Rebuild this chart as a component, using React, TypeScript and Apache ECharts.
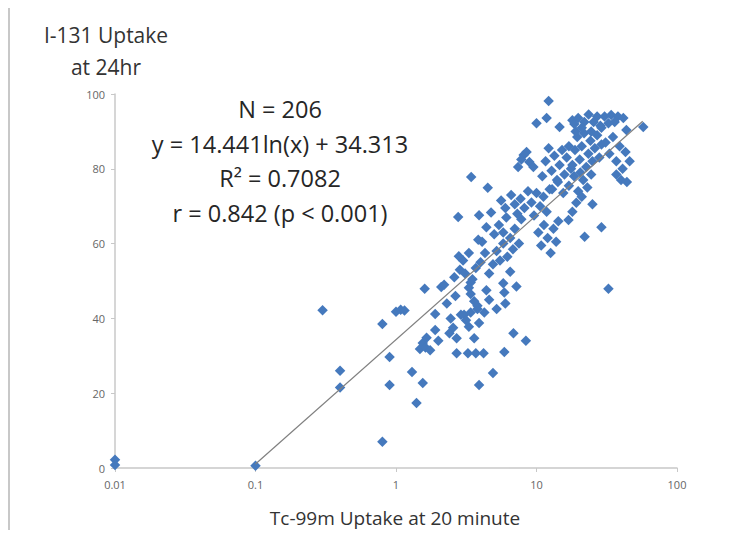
import React, { useEffect, useRef } from "react";
import * as echarts from "echarts";

// Tc-99m uptake at 20 min (x, %) vs I-131 uptake at 24hr (y, %)
const uptakePoints: [number, number][] = [
  // far-left / low outliers
  [0.01, 2.2], [0.01, 0.8], [0.1, 0.6], [0.3, 42.2], [0.4, 26], [0.4, 21.5], [0.8, 38.5], [0.8, 7],
  [0.9, 29.7], [0.9, 22.2], [1.0, 41.8], [1.08, 42.3], [1.15, 42.1], [1.3, 25.7], [1.4, 17.4], [1.55, 22.7],
  // x 1.4-3
  [1.48, 31.8], [1.55, 33.4], [1.62, 32.2], [1.75, 31.5], [1.6, 47.9], [1.65, 34.8], [1.9, 36.9], [1.9, 41.2],
  [2.0, 34], [2.1, 48.4], [2.2, 49], [2.3, 44], [2.45, 40], [2.4, 36], [2.65, 46], [2.7, 34.7], [2.7, 30.7],
  [2.55, 37.5], [2.9, 41],
  // x 3-4.6
  [3.25, 30.7], [3.7, 30.7], [4.2, 30.7], [3.6, 34.7], [3.9, 38.8], [3.05, 41], [3.4, 41.6], [3.15, 39.5],
  [3.8, 42.5], [4.25, 41.6], [3.3, 37.8], [3.9, 22.2], [3.4, 49.6], [3.3, 48.2], [3.4, 46.5], [3.6, 44.6],
  [3.8, 43.4], [4.6, 45], [4.4, 47.5],
  // x 4.5-8.5 low
  [4.9, 25.4], [5.9, 31], [6.85, 36], [8.4, 34], [5.8, 49.4], [5.9, 46.9], [6.0, 44], [7.2, 48.5], [5.2, 42.5],
  // y 48-61
  [2.6, 51], [2.85, 53], [3.0, 55.5], [3.3, 57.5], [3.1, 52], [2.8, 56.6], [3.5, 50.5], [3.7, 53.5], [4.0, 55],
  [4.3, 57.5], [4.6, 52], [4.9, 54.5], [5.2, 58], [5.5, 55.5], [5.8, 60], [6.2, 56.5], [6.5, 52.5], [4.1, 60.5],
  // y 59-68 and lone points
  [2.77, 67.1], [3.43, 77.8], [4.5, 74.9], [3.9, 67.6], [4.75, 68.3], [4.4, 64.4], [3.85, 61], [5.0, 62.5],
  [5.4, 65], [5.8, 63], [6.1, 67], [6.5, 61.5], [7.0, 64], [7.5, 60], [7.8, 66.5], [6.8, 58.5],
  // y 66-75
  [5.6, 71.5], [6.0, 69.5], [6.6, 73], [7.0, 70.5], [7.3, 68], [7.7, 72], [8.2, 69.5], [8.7, 74], [9.2, 71],
  [9.6, 67.5], [10.0, 73.5], [10.6, 70], [11.2, 72.5], [11.8, 68.5], [12.4, 74.5],
  // x 10-14.5, y 57-66
  [10.3, 63], [10.8, 59.5], [11.3, 65], [12.0, 61.5], [12.6, 57.5], [13.2, 64], [13.8, 60.5], [14.3, 66],
  // x 7-10 y 80-85 and top singles
  [7.4, 80.5], [8.1, 83.7], [8.9, 81.8], [9.5, 80.5], [8.5, 84.5], [7.8, 82.5], [12.2, 98.1], [10.0, 92.2],
  [11.8, 93.6], [14.6, 91.2],
  // x 11-18, y 77-86
  [11, 78], [11.6, 82], [12.2, 85.5], [12.8, 79.5], [13.4, 83.5], [14, 77], [14.6, 81], [15.2, 85], [15.8, 78.5],
  [16.4, 83], [17, 86], [17.6, 80],
  // x 13-25, y 73-79
  [12.9, 74.5], [14.2, 76.5], [15.5, 73.5], [17, 75.5], [18.5, 78], [19.8, 74], [21.5, 77], [23, 75], [24.5, 78.5],
  [20.5, 79],
  // x 16-33, y 48-73
  [16.9, 66.3], [19.2, 70.9], [22, 61.8], [29, 64.4], [18, 68.5], [21, 72.5], [25, 70.5], [32.5, 47.9],
  // x 18-30, y 80-90
  [18, 81], [18.8, 85], [19.5, 88.5], [20.3, 82.5], [21, 86], [21.8, 89.5], [22.6, 80.5], [23.4, 84], [24.2, 87.5],
  [25, 82], [26, 85.5], [27, 89], [28, 83], [29, 86.5], [19, 90], [24.5, 90],
  // top blob x 18-42, y 90-95
  [18, 93], [19.8, 93.6], [21.9, 92.5], [21, 91], [18.6, 92], [23.5, 94.5], [25.5, 92.5], [27, 94], [28.5, 91.5],
  [30.5, 94], [34, 94.4], [38, 94], [41.5, 93.6], [36, 92.5], [32.5, 92.2], [29, 91],
  // right column x 30-57
  [57.5, 91.2], [43.6, 90.4], [31, 87], [33, 84], [35, 88.5], [37, 82], [39, 86], [41, 80], [43, 84.5], [46, 82],
  [40, 77], [37, 78.5], [44, 76.5],
];

// logarithmic trend line end points (y = 14.441 ln(x) + 34.313)
const trendX = [0.1, 57];
const trendY = [1.06, 92.7];

const xTicks = [0.01, 0.1, 1, 10, 100];
const yTicks = [0, 20, 40, 60, 80, 100];

const statLines = ["N = 206", "y = 14.441ln(x) + 34.313", "R² = 0.7082", "r = 0.842 (p < 0.001)"];
const yTitleLines = ["I-131 Uptake", "at 24hr"];
const xTitle = "Tc-99m Uptake at 20 minute";

export default function App() {
  const ref = useRef<HTMLDivElement>(null);
  useEffect(() => {
    const chart = echarts.init(ref.current!, undefined, { renderer: "svg" });
    const font = "'Open Sans', Lato, sans-serif";
    chart.setOption({
      animation: false,
      backgroundColor: "#ffffff",
      grid: { left: 115, right: 78, top: 94, bottom: 70 },
      xAxis: {
        type: "log",
        logBase: 10,
        min: xTicks[0],
        max: xTicks[xTicks.length - 1],
        splitLine: { show: false },
        axisLine: { lineStyle: { color: "#c8c8c8", width: 1.5 } },
        axisTick: { show: true, length: 4, lineStyle: { color: "#c8c8c8" } },
        minorTick: { show: false },
        axisLabel: {
          color: "#666",
          fontSize: 11,
          fontFamily: font,
          margin: 11,
          formatter: (v: number) => String(Number(v.toPrecision(3))),
        },
      },
      yAxis: {
        type: "value",
        min: yTicks[0],
        max: yTicks[yTicks.length - 1],
        interval: 20,
        splitLine: { show: false },
        axisLine: { show: true, lineStyle: { color: "#c8c8c8", width: 1.5 } },
        axisTick: { show: true, length: 4, lineStyle: { color: "#c8c8c8" } },
        axisLabel: { color: "#666", fontSize: 11, fontFamily: font, margin: 10 },
      },
      series: [
        {
          type: "scatter",
          data: uptakePoints,
          symbol: "diamond",
          symbolSize: 10.5,
          itemStyle: { color: "#4579BD", opacity: 1 },
          z: 2,
        },
        {
          type: "line",
          data: trendX.map((x, i) => [x, trendY[i]]),
          symbol: "none",
          lineStyle: { color: "#808080", width: 1.2 },
          z: 3,
        },
      ],
      graphic: [
        { type: "line", shape: { x1: 8, y1: 7, x2: 755, y2: 7 }, style: { stroke: "#c8c8c8", lineWidth: 2 } },
        { type: "line", shape: { x1: 9, y1: 7, x2: 9, y2: 538 }, style: { stroke: "#c8c8c8", lineWidth: 2 } },
        ...yTitleLines.map((t, i) => ({
          type: "text",
          x: 106,
          y: 35 + i * 32,
          style: { text: t, fill: "#333", font: `21px ${font}`, textAlign: "center", textVerticalAlign: "middle" },
        })),
        ...statLines.map((t, i) => ({
          type: "text",
          x: 280,
          y: 109 + i * 34.5,
          style: { text: t, fill: "#262626", font: `23.5px ${font}`, textAlign: "center", textVerticalAlign: "middle" },
        })),
        {
          type: "text",
          x: 395,
          y: 518,
          style: { text: xTitle, fill: "#333", font: `19px ${font}`, textAlign: "center", textVerticalAlign: "middle" },
        },
      ],
    });
    return () => chart.dispose();
  }, []);
  return <div ref={ref} style={{ width: 755, height: 538, margin: -8 }} />;
}
